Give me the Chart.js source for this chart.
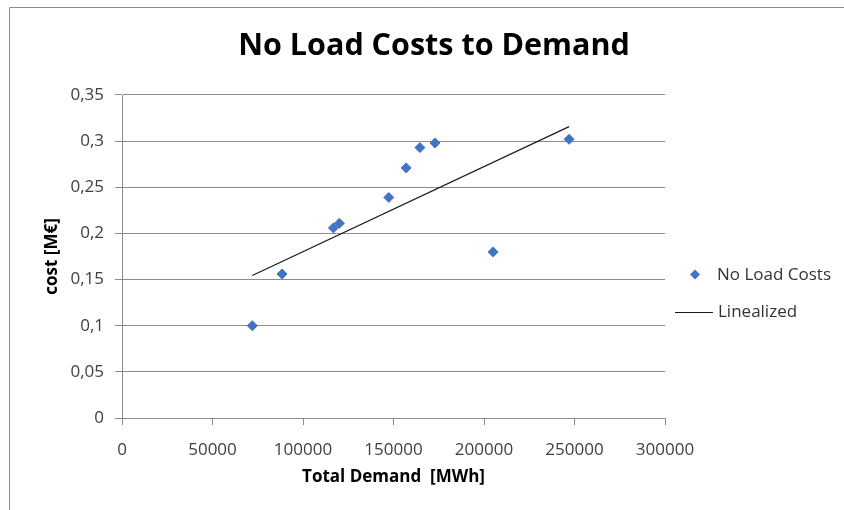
<!DOCTYPE html>
<html><head><meta charset="utf-8">
<script src="https://cdn.jsdelivr.net/npm/chart.js@4.4.0/dist/chart.umd.min.js"></script>
<style>html,body{margin:0;padding:0;background:#fff;} canvas{display:block;}</style>
</head><body>
<canvas id="c" width="844" height="510"></canvas>
<script>
const demand = [72000, 88400, 116800, 120100, 147400, 157000, 164600, 172900, 205000, 247000];
const cost = [0.100, 0.156, 0.206, 0.211, 0.239, 0.271, 0.293, 0.298, 0.180, 0.302];
const fitDemand = [72000, 247000];
const fitCost = [0.1545, 0.3157];
const xTickLabels = ['0','50000','100000','150000','200000','250000','300000'];
const yTickLabels = ['0','0,05','0,1','0,15','0,2','0,25','0,3','0,35'];
const seriesNames = ['No Load Costs', 'Linealized'];
const chartTitle = 'No Load Costs to Demand';
const xTitle = 'Total Demand  [MWh]';
const yTitle = 'cost [M€]';

const FONT = '"Open Sans", Lato, sans-serif';
const blue = '#4472C4';
const gridCol = '#8c8c8c';

const decorPlugin = {
  id: 'decor',
  afterDraw(chart) {
    const ctx = chart.ctx;
    ctx.save();
    // frame (top + left)
    ctx.strokeStyle = '#8a8a8a';
    ctx.lineWidth = 1;
    ctx.beginPath();
    ctx.moveTo(9.5, 510); ctx.lineTo(9.5, 7.5); ctx.lineTo(844, 7.5);
    ctx.stroke();
    // title
    ctx.fillStyle = '#000';
    ctx.font = 'bold 30.5px ' + FONT;
    ctx.textAlign = 'center';
    ctx.textBaseline = 'middle';
    ctx.fillText(chartTitle, 434, 46);
    // legend
    ctx.font = '17px ' + FONT;
    ctx.textAlign = 'left';
    const r = 5, dx = 695, dy = 274.5;
    ctx.beginPath();
    ctx.moveTo(dx - r, dy); ctx.lineTo(dx, dy - r); ctx.lineTo(dx + r, dy); ctx.lineTo(dx, dy + r); ctx.closePath();
    ctx.fillStyle = blue; ctx.fill();
    ctx.fillStyle = '#333';
    ctx.fillText(seriesNames[0], 717, 275);
    ctx.strokeStyle = '#1a1a1a';
    ctx.beginPath(); ctx.moveTo(675, 312.5); ctx.lineTo(713, 312.5); ctx.stroke();
    ctx.fillText(seriesNames[1], 718, 312);
    ctx.restore();
  }
};

new Chart(document.getElementById('c'), {
  type: 'scatter',
  data: {
    datasets: [
      {
        label: seriesNames[0],
        data: demand.map((d, i) => ({x: d, y: cost[i]})),
        pointStyle: 'rectRot',
        pointRadius: 5,
        pointBorderWidth: 1,
        backgroundColor: blue,
        borderColor: blue,
        order: 1
      },
      {
        label: seriesNames[1],
        type: 'line',
        data: fitDemand.map((d, i) => ({x: d, y: fitCost[i]})),
        borderColor: '#1a1a1a',
        borderWidth: 1.2,
        pointRadius: 0,
        fill: false,
        order: 2
      }
    ]
  },
  options: {
    responsive: false,
    animation: false,
    devicePixelRatio: 1,
    layout: { padding: { top: 95, right: 179, left: 0, bottom: 0 } },
    plugins: { legend: { display: false }, title: { display: false }, tooltip: { enabled: false } },
    scales: {
      x: {
        type: 'linear',
        min: 0, max: 300000,
        afterFit(s) { s.height = 92; },
        afterBuildTicks(s) { s.ticks = xTickLabels.map((t, i) => ({value: i * 50000})); },
        ticks: {
          autoSkip: false, maxRotation: 0,
          padding: 15,
          color: '#404040',
          font: { family: FONT, size: 17 },
          callback: (v, i) => xTickLabels[i]
        },
        grid: { drawOnChartArea: false, drawTicks: true, tickLength: 7, color: gridCol },
        border: { color: gridCol },
        title: { display: true, text: xTitle, color: '#000', font: { family: FONT, size: 17, weight: 'bold' }, padding: { top: 0, bottom: 23 } }
      },
      y: {
        type: 'linear',
        min: 0, max: 0.35,
        afterFit(s) { s.width = 122; },
        afterBuildTicks(s) { s.ticks = yTickLabels.map((t, i) => ({value: i * 0.05})); },
        ticks: {
          autoSkip: false,
          padding: 11,
          color: '#404040',
          font: { family: FONT, size: 17 },
          callback: (v, i) => yTickLabels[i]
        },
        grid: { drawTicks: true, tickLength: 7, color: gridCol },
        border: { color: gridCol },
        title: { display: true, text: yTitle, color: '#000', font: { family: FONT, size: 17, weight: 'bold' }, padding: { top: 42, bottom: 0 } }
      }
    }
  },
  plugins: [decorPlugin]
});
</script>
</body></html>
